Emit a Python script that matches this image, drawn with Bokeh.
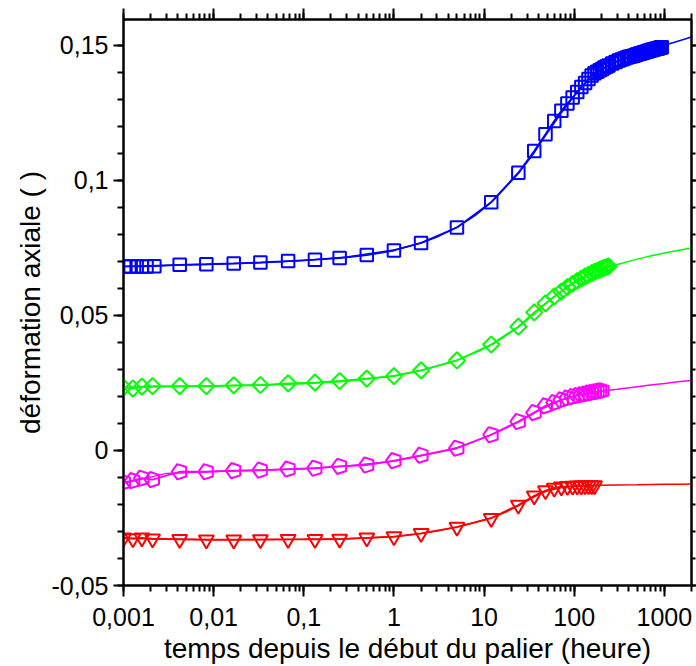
import math
from bokeh.plotting import figure
from bokeh.models import (LogAxis, LinearAxis, LogTicker, SingleIntervalTicker,
                          CustomJSTickFormatter, Range1d)
from bokeh.embed import file_html
from bokeh.resources import INLINE

# ---------------- data ----------------
t_blue = [0.00105, 0.0012, 0.0014, 0.0016, 0.0018, 0.0022,
          0.0042, 0.0083, 0.0167, 0.033, 0.067, 0.133, 0.25, 0.5, 1, 2, 5, 12,
          24, 36, 48, 60, 72, 84, 96, 108, 120, 132, 144, 156, 168, 180, 192, 204, 216, 228, 240,
          264, 288, 312, 336, 360, 384, 408, 432, 456, 480, 504, 528, 552, 576, 600, 624, 648,
          672, 696, 720, 744, 768, 792, 816, 840, 864, 888, 912, 936]
v_blue = [0.0681, 0.0681, 0.0681, 0.0681, 0.0681, 0.0682,
          0.0687, 0.0689, 0.0692, 0.0696, 0.0701, 0.0706, 0.0712, 0.0723, 0.0740, 0.0768, 0.0825, 0.0919,
          0.1028, 0.1108, 0.1170, 0.1219, 0.1257, 0.1284, 0.1306, 0.1327, 0.1345, 0.1360, 0.1375, 0.1388,
          0.1396, 0.1402, 0.1407, 0.1412, 0.1417, 0.1421, 0.1425,
          0.1432, 0.1438, 0.1443, 0.1447, 0.1451, 0.1454, 0.1457, 0.1459, 0.1461, 0.1464, 0.1466, 0.1468,
          0.1470, 0.1472, 0.1474, 0.1476, 0.1477, 0.1479, 0.1480, 0.1482, 0.1483, 0.1485, 0.1486, 0.1487,
          0.1488, 0.1489, 0.1490, 0.1491, 0.1492]

t_green = [0.001, 0.00127, 0.0016, 0.0021,
           0.0042, 0.0083, 0.0167, 0.033, 0.067, 0.133, 0.25, 0.5, 1, 2, 5, 12,
           24, 36, 48, 60, 72, 84, 96, 108, 120, 132, 144, 156, 168, 180, 192, 204, 216, 228, 240]
v_green = [0.0233, 0.0229, 0.0236, 0.0238,
           0.0238, 0.0238, 0.0241, 0.0242, 0.0248, 0.0251, 0.0257, 0.0266, 0.0275, 0.0296, 0.0333, 0.0392,
           0.0458, 0.0511, 0.0544, 0.0570, 0.0588, 0.0605, 0.0617, 0.0627, 0.0636, 0.0644, 0.0650, 0.0656,
           0.0661, 0.0665, 0.0669, 0.0673, 0.0676, 0.0679, 0.0681]

t_magenta = [0.001, 0.00127, 0.0016, 0.0021,
             0.0042, 0.0083, 0.0167, 0.033, 0.067, 0.133, 0.25, 0.5, 1, 2, 5, 12,
             24, 36, 48, 60, 72, 84, 96, 108, 120, 132, 144, 156, 168, 180, 192, 204]
v_magenta = [-0.0118, -0.0112, -0.0103, -0.0108,
             -0.0079, -0.0079, -0.0075, -0.0073, -0.0069, -0.0066, -0.0059, -0.0054, -0.0038, -0.0018, 0.0008, 0.0058,
             0.0107, 0.0140, 0.0165, 0.0177, 0.0187, 0.0194, 0.0199, 0.0203, 0.0206, 0.0209, 0.0212, 0.0214,
             0.0216, 0.0218, 0.0220, 0.0221]

t_red = [0.001, 0.00127, 0.0016, 0.0021,
         0.0042, 0.0083, 0.0167, 0.033, 0.067, 0.133, 0.25, 0.5, 1, 2, 5, 12,
         24, 36, 48, 60, 72, 84, 96, 108, 120, 132, 144, 156, 168]
v_red = [-0.0324, -0.0326, -0.0324, -0.0327,
         -0.0329, -0.0331, -0.0331, -0.0330, -0.0329, -0.0329, -0.0328, -0.0324, -0.0319, -0.0307, -0.0284, -0.0251,
         -0.0202, -0.0168, -0.0149, -0.0139, -0.0135, -0.0133, -0.0132, -0.0131, -0.0131, -0.0130, -0.0130,
         -0.0130, -0.0130]

# fitted curves
fit_t = [0.001, 0.003, 0.01, 0.03, 0.1, 0.3, 1, 2, 3, 5, 8, 12, 18, 24, 36, 48, 72, 100, 150, 200,
         300, 500, 700, 1000, 1500, 2000]
fit_blue = [0.0681, 0.0685, 0.0689, 0.0694, 0.0703, 0.0716, 0.0742, 0.0768, 0.0790, 0.0826, 0.0870, 0.0918,
            0.0980, 0.1025, 0.1102, 0.1165, 0.1250, 0.1313, 0.1380, 0.1410, 0.1440, 0.1468, 0.1484, 0.1500,
            0.1517, 0.1530]
fit_green = [0.0234, 0.0236, 0.0238, 0.0241, 0.0247, 0.0256, 0.0276, 0.0296, 0.0312, 0.0334, 0.0362, 0.0390,
             0.0428, 0.0456, 0.0505, 0.0542, 0.0590, 0.0625, 0.0655, 0.0672, 0.0688, 0.0708, 0.0720, 0.0731,
             0.0742, 0.0749]
fit_magenta = [-0.0122, -0.0085, -0.0078, -0.0074, -0.0068, -0.0058, -0.0040, -0.0020, -0.0008, 0.0010, 0.0035,
               0.0058, 0.0085, 0.0105, 0.0138, 0.0160, 0.0186, 0.0202, 0.0213, 0.0219, 0.0226, 0.0236, 0.0242,
               0.0248, 0.0255, 0.0259]
fit_red = [-0.0326, -0.0328, -0.0330, -0.0330, -0.0329, -0.0327, -0.0320, -0.0308, -0.0298, -0.0283, -0.0266,
           -0.0250, -0.0226, -0.0205, -0.0172, -0.0152, -0.0137, -0.0133, -0.0130, -0.0129, -0.0128, -0.0127,
           -0.0126, -0.0125, -0.0125, -0.0124]

x_ticks = [0.001, 0.01, 0.1, 1, 10, 100, 1000]
x_tick_labels = ["0,001", "0,01", "0,1", "1", "10", "100", "1000"]
y_ticks = [-0.05, 0, 0.05, 0.1, 0.15]
y_tick_labels = ["-0,05", "0", "0,05", "0,1", "0,15"]

x_title = "temps depuis le début du palier (heure)"
y_title = "déformation axiale ( )"

BLUE, GREEN, MAGENTA, RED = "#0000ff", "#00ff00", "#ff00ff", "#ff0000"
FONT = "Liberation Sans"

# ---------------- figure ----------------
p = figure(width=696, height=666, x_axis_type="log",
           x_range=Range1d(0.001, 2000), y_range=Range1d(-0.05, 0.1595),
           output_backend="svg", toolbar_location=None,
           min_border_left=123, min_border_right=5, min_border_top=19, min_border_bottom=80)
p.background_fill_color = "white"
p.border_fill_color = "white"
p.outline_line_color = "black"
p.outline_line_width = 2
p.xgrid.visible = False
p.ygrid.visible = False

fmt_code = """
let best = 0, bd = 1e99;
for (let i = 0; i < tvals.length; i++) {
  const d = Math.abs(tvals[i] - tick);
  if (d < bd) { bd = d; best = i; }
}
if (bd < 1e-9 + 1e-6 * Math.abs(tick)) return tlabels[best];
return "";
"""
xfmt = CustomJSTickFormatter(args=dict(tvals=x_ticks, tlabels=x_tick_labels), code=fmt_code)
yfmt = CustomJSTickFormatter(args=dict(tvals=y_ticks, tlabels=y_tick_labels), code=fmt_code)
blank = CustomJSTickFormatter(code="return '';")

def style_axis(ax, tick_out=11, minor_out=6, labels=True):
    ax.axis_line_color = "black"
    ax.axis_line_width = 2
    ax.major_tick_line_color = "black"
    ax.major_tick_line_width = 2
    ax.minor_tick_line_color = "black"
    ax.minor_tick_line_width = 2
    ax.major_tick_in = 0
    ax.minor_tick_in = 0
    ax.major_tick_out = tick_out
    ax.minor_tick_out = minor_out
    ax.major_label_text_font = FONT
    ax.major_label_text_font_size = "25px" if labels else "1px"
    ax.major_label_text_color = "black"
    ax.axis_label_text_font = FONT
    ax.axis_label_text_font_size = "28px"
    ax.axis_label_text_font_style = "normal"
    ax.axis_label_text_color = "black"

xa = p.xaxis[0]
xa.ticker = LogTicker(desired_num_ticks=8, num_minor_ticks=10)
xa.formatter = xfmt
style_axis(xa)
xa.major_label_standoff = 11
xa.axis_label = x_title
xa.axis_label_standoff = 4

ya = p.yaxis[0]
ya.ticker = SingleIntervalTicker(interval=0.05, num_minor_ticks=5)
ya.formatter = yfmt
style_axis(ya, tick_out=10, minor_out=6)
ya.major_label_standoff = 5
ya.axis_label = y_title
ya.axis_label_standoff = 3

top = LogAxis(ticker=LogTicker(desired_num_ticks=8, num_minor_ticks=10), formatter=blank)
style_axis(top, tick_out=11, minor_out=6, labels=False)
top.major_label_standoff = 0
p.add_layout(top, "above")

right = LinearAxis(ticker=SingleIntervalTicker(interval=0.05, num_minor_ticks=5), formatter=blank)
style_axis(right, tick_out=5, minor_out=4, labels=False)
right.major_label_standoff = 0
p.add_layout(right, "right")

# ---------------- fitted curves ----------------
for vals, col in [(fit_blue, BLUE), (fit_green, GREEN), (fit_magenta, MAGENTA), (fit_red, RED)]:
    p.line(fit_t, vals, line_color=col, line_width=1.5)

# ---------------- data lines + markers ----------------
p.line(t_blue, v_blue, line_color=BLUE, line_width=1.8)
p.scatter(t_blue, v_blue, marker="square", size=12.5, fill_color=None, line_color=BLUE, line_width=2)

p.line(t_green, v_green, line_color=GREEN, line_width=1.8)
p.scatter(t_green, v_green, marker="square", angle=math.pi / 4, size=11.5, fill_color=None,
          line_color=GREEN, line_width=2)

p.line(t_magenta, v_magenta, line_color=MAGENTA, line_width=1.8)
p.ngon(x=t_magenta, y=v_magenta, radius=8, radius_units="screen", n=5, angle=math.pi / 2,
       fill_color=None, line_color=MAGENTA, line_width=2)

p.line(t_red, v_red, line_color=RED, line_width=1.8)
p.scatter(t_red, v_red, marker="inverted_triangle", size=15, fill_color=None, line_color=RED, line_width=2)

open("out.html", "w").write(file_html(p, INLINE))
